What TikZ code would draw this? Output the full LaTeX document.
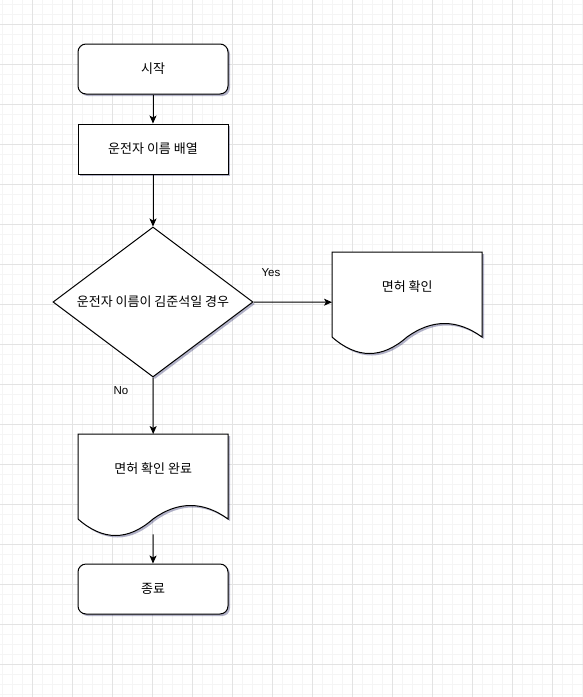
\documentclass[tikz,border=0pt]{standalone}
\usepackage{fontspec}
\setmainfont{Liberation Sans}
\newfontfamily\kr{Noto Sans CJK KR}
\usetikzlibrary{shapes.geometric,shadows,arrows.meta}

% document shape: name, top left corner, text
\newcommand\wavedoc[3]{%
  \draw[box, shift={#2}] (0,0) -- (150,0) -- (150,85) .. controls (125,67) and (100,67) .. (75,85)
    .. controls (50,107) and (25,107) .. (0,85) -- cycle;
  \node[docbox, anchor=north west] (#1) at #2 {#3};}

\begin{document}
\begin{tikzpicture}[x=1pt, y=-1pt]
		\tikzset{> = {Stealth[length=8pt, width=7pt, inset=2pt]}}
		\tikzset{gridminor/.style = {line width=1pt, black!4},
			gridmajor/.style = {line width=1pt, black!11},
			box/.style = {draw, fill=white, line width=1pt,
				drop shadow={shadow xshift=2pt, shadow yshift=-2pt, fill=black!70!blue, opacity=0.3}},
			kor/.style = {font=\kr\fontsize{13}{15}\selectfont},
			stepbox/.style = {box, kor, rectangle, minimum width=150pt, minimum height=50pt},
			term/.style = {stepbox, rounded corners=8pt},
			dia/.style = {box, kor, diamond, aspect=1.333, minimum width=200pt, minimum height=150pt, inner sep=0pt},
			docbox/.style = {kor, minimum width=150pt, inner sep=0pt, text height=39pt, text depth=61pt},
			answer/.style = {font=\fontsize{11.5}{13}\selectfont}}
		\fill[white] (0,0) rectangle (583,697);
		\useasboundingbox (0,0) rectangle (583,697);
		% grid
		\foreach \x in {2,12,...,582} \draw[gridminor] (\x,0) -- (\x,697);
		\foreach \y in {4,14,...,694} \draw[gridminor] (0,\y) -- (583,\y);
		\foreach \x in {32,72,...,552} \draw[gridmajor] (\x,0) -- (\x,697);
		\foreach \y in {24,64,...,664} \draw[gridmajor] (0,\y) -- (583,\y);
		% flow
		\node[term] (start) at (153,69) {시작};
		\node[stepbox] (arr) at (153,149) {운전자 이름 배열};
		\node[dia] (dec) at (153,302) {운전자 이름이 김준석일 경우};
		\wavedoc{lic}{(332,252)}{면허 확인}
		\wavedoc{done}{(78,434)}{면허 확인 완료}
		\node[term] (end) at (153,589) {종료};
		\node[answer] (yes) at (271,273) {Yes};
		\node[answer] (no) at (121,391) {No};
		\draw[->, line width=1pt] (start) -- (arr);
		\draw[->, line width=1pt] (arr) -- (dec);
		\draw[->, line width=1pt] (dec.east) -- (lic.west);
		\draw[->, line width=1pt] (dec.south) -- (done.north);
		\draw[->, line width=1pt] (done.south) -- (end.north);
	\end{tikzpicture}
\end{document}
